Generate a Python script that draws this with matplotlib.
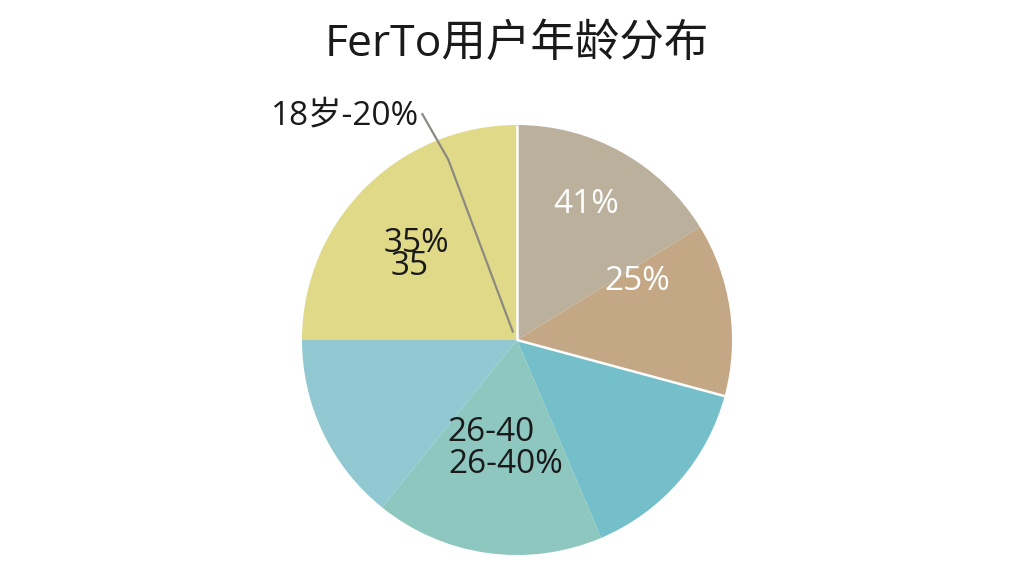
import numpy as np
import matplotlib.pyplot as plt

plt.rcParams['font.family'] = ['Open Sans', 'Noto Sans CJK SC', 'DejaVu Sans']

# Anteile der Segmente (im Uhrzeigersinn ab 12 Uhr), aus dem Bild geschaetzt
shares = [16.2, 13.0, 14.4, 17.2, 14.2, 25.0]
colors = ['#bab09c', '#c4a886', '#74bfc9', '#8dc7bf', '#92c8d2', '#e0da88']

# Beschriftungen wie im Original (teils doppelt)
labels = ['41%', '25%', '35%', '35', '26-40', '26-40%', '18岁-20%']
label_pos = [(0.32, 0.63), (0.56, 0.27), (-0.47, 0.45), (-0.50, 0.34),
             (-0.12, -0.43), (-0.05, -0.58), (-0.80, 1.04)]
label_col = ['white', 'white', '#1a1a1a', '#1a1a1a', '#1a1a1a', '#1a1a1a', '#1a1a1a']

fig = plt.figure(figsize=(10.24, 5.76), dpi=100)
fig.text(0.505, 0.922, 'FerTo用户年龄分布', ha='center', va='center', fontsize=32, color='#1a1a1a')

ax = fig.add_axes([(517 - 215) / 1024, (576 - 340 - 215) / 576, 430 / 1024, 430 / 576])
wedges, _ = ax.pie(shares, colors=colors, startangle=90, counterclock=False,
                   radius=1, wedgeprops=dict(linewidth=0))

# weisse Trennlinien nur an zwei Grenzen
for i in [1, 5]:
    th = np.deg2rad(wedges[i].theta1)
    ax.plot([0, np.cos(th)], [0, np.sin(th)], color='white', lw=1.8, solid_capstyle='butt')

for txt, (x, y), c in zip(labels, label_pos, label_col):
    ax.text(x, y, txt, ha='center', va='center', fontsize=24, color=c)

# Fuehrungslinie zum Label oben links
ax.plot([-0.44, -0.32, -0.02], [1.05, 0.84, 0.04], color='#8c8a80', lw=1.6, clip_on=False)

ax.set_xlim(-1, 1)
ax.set_ylim(-1, 1)
ax.set_aspect('equal')
ax.axis('off')

plt.savefig('out.png', dpi=100)
